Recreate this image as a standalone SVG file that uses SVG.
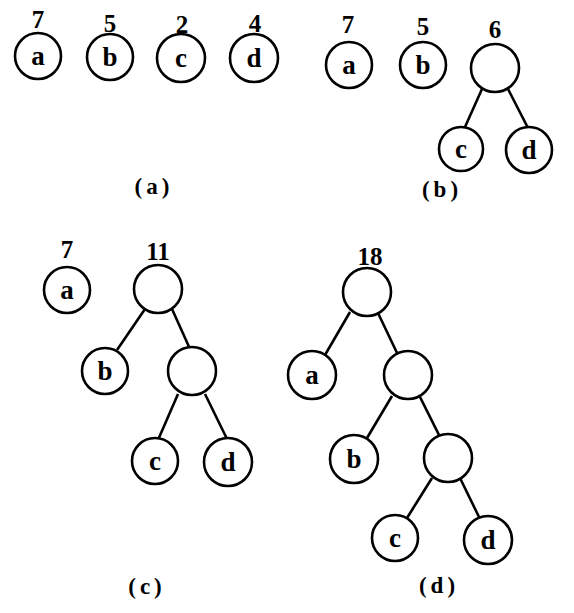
<svg xmlns="http://www.w3.org/2000/svg" width="574" height="613" viewBox="0 0 574 613">
<style>
.n{fill:#fff;stroke:#000;stroke-width:2.6}
.l{font-family:"Liberation Serif",serif;font-weight:bold;font-size:27px;text-anchor:middle}
.w{font-family:"Liberation Serif",serif;font-weight:bold;font-size:25px;text-anchor:middle}
.cap{font-family:"Liberation Serif",serif;font-weight:bold;font-size:23px;text-anchor:middle;letter-spacing:4px}
.e{stroke:#000;stroke-width:2.6;fill:none}
</style>
<rect width="574" height="613" fill="#fff"/>
<g id="connectors">
<line class="e" x1="482" y1="89" x2="465" y2="127"/>
<line class="e" x1="508" y1="89" x2="528" y2="128"/>
<line class="e" x1="145" y1="309" x2="117" y2="350"/>
<line class="e" x1="172" y1="309" x2="190" y2="349"/>
<line class="e" x1="178" y1="394" x2="158" y2="440"/>
<line class="e" x1="205" y1="394" x2="228" y2="441"/>
<line class="e" x1="350" y1="312" x2="325" y2="355"/>
<line class="e" x1="378" y1="313" x2="398" y2="355"/>
<line class="e" x1="392" y1="396" x2="367" y2="438"/>
<line class="e" x1="420" y1="397" x2="440" y2="437"/>
<line class="e" x1="432" y1="478" x2="407" y2="518"/>
<line class="e" x1="460" y1="478" x2="480" y2="519"/>
</g>
<g id="a-a"><circle class="n" cx="38" cy="56" r="23"/><text class="l" x="38" y="65">a</text><text class="w" x="38" y="28">7</text></g>
<g id="a-b"><circle class="n" cx="110" cy="57" r="23"/><text class="l" x="110" y="66">b</text><text class="w" x="110" y="32">5</text></g>
<g id="a-c"><circle class="n" cx="181" cy="58" r="24"/><text class="l" x="181" y="67">c</text><text class="w" x="182" y="33">2</text></g>
<g id="a-d"><circle class="n" cx="254" cy="58" r="24"/><text class="l" x="254" y="67">d</text><text class="w" x="255" y="32">4</text></g>
<text id="cap-a" class="cap" x="154" y="194">(a)</text>
<g id="b-a"><circle class="n" cx="349" cy="65" r="23"/><text class="l" x="349" y="74">a</text><text class="w" x="348" y="33">7</text></g>
<g id="b-b"><circle class="n" cx="423" cy="65" r="23"/><text class="l" x="423" y="74">b</text><text class="w" x="423" y="35">5</text></g>
<g id="b-6"><circle class="n" cx="495" cy="68" r="24"/><text class="w" x="495" y="38">6</text></g>
<g id="b-c"><circle class="n" cx="461" cy="149" r="22"/><text class="l" x="461" y="158">c</text></g>
<g id="b-d"><circle class="n" cx="529" cy="150" r="23"/><text class="l" x="529" y="159">d</text></g>
<text id="cap-b" class="cap" x="442" y="197">(b)</text>
<g id="c-a"><circle class="n" cx="67" cy="290" r="23"/><text class="l" x="67" y="299">a</text><text class="w" x="67" y="258">7</text></g>
<g id="c-11"><circle class="n" cx="158" cy="289" r="24"/><text class="w" x="158" y="260">11</text></g>
<g id="c-b"><circle class="n" cx="105" cy="371" r="23"/><text class="l" x="105" y="380">b</text></g>
<g id="c-i"><circle class="n" cx="192" cy="371" r="24"/></g>
<g id="c-c"><circle class="n" cx="155" cy="461" r="23"/><text class="l" x="155" y="470">c</text></g>
<g id="c-d"><circle class="n" cx="228" cy="462" r="24"/><text class="l" x="228" y="471">d</text></g>
<text id="cap-c" class="cap" x="147" y="594">(c)</text>
<g id="d-18"><circle class="n" cx="367" cy="292" r="24"/><text class="w" x="370" y="265">18</text></g>
<g id="d-a"><circle class="n" cx="312" cy="375" r="24"/><text class="l" x="312" y="384">a</text></g>
<g id="d-i1"><circle class="n" cx="408" cy="375" r="24"/></g>
<g id="d-b"><circle class="n" cx="354" cy="459" r="24"/><text class="l" x="354" y="468">b</text></g>
<g id="d-i2"><circle class="n" cx="448" cy="458" r="24"/></g>
<g id="d-c"><circle class="n" cx="395" cy="538" r="23"/><text class="l" x="395" y="547">c</text></g>
<g id="d-d"><circle class="n" cx="488" cy="540" r="24"/><text class="l" x="488" y="549">d</text></g>
<text id="cap-d" class="cap" x="439" y="593">(d)</text>
</svg>
